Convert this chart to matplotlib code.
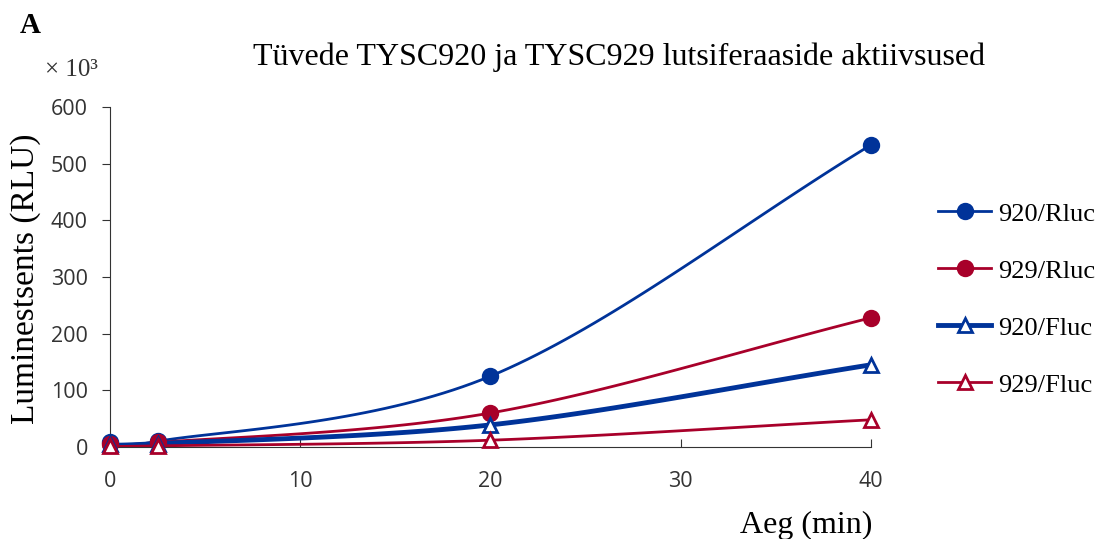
import numpy as np
import matplotlib.pyplot as plt
from matplotlib.lines import Line2D

plt.rcParams['font.family'] = ['Liberation Serif', 'DejaVu Serif']

aeg = [0, 2.5, 20, 40]
rluc_920 = [8, 10, 125, 533]
rluc_929 = [5, 8, 60, 228]
fluc_920 = [5, 6, 39, 145]
fluc_929 = [1, 2, 12, 48]

sinine = '#003399'
punane = '#A8002A'


def silu(x, y, n=40):
    # Excel-laadne silumine (Catmull-Rom)
    x = np.asarray(x, float)
    y = np.asarray(y, float)
    px = np.concatenate([[2 * x[0] - x[1]], x, [2 * x[-1] - x[-2]]])
    py = np.concatenate([[2 * y[0] - y[1]], y, [2 * y[-1] - y[-2]]])
    xs, ys = [], []
    t = np.linspace(0, 1, n)
    for i in range(1, len(px) - 2):
        c1x = px[i] + (px[i + 1] - px[i - 1]) / 6
        c1y = py[i] + (py[i + 1] - py[i - 1]) / 6
        c2x = px[i + 1] - (px[i + 2] - px[i]) / 6
        c2y = py[i + 1] - (py[i + 2] - py[i]) / 6
        bx = (1 - t) ** 3 * px[i] + 3 * (1 - t) ** 2 * t * c1x + 3 * (1 - t) * t ** 2 * c2x + t ** 3 * px[i + 1]
        by = (1 - t) ** 3 * py[i] + 3 * (1 - t) ** 2 * t * c1y + 3 * (1 - t) * t ** 2 * c2y + t ** 3 * py[i + 1]
        xs.extend(bx)
        ys.extend(by)
    return np.array(xs), np.array(ys)


fig = plt.figure(figsize=(11.02, 5.39), dpi=100)
ax = fig.add_axes([0.0998, 0.1707, 0.6905, 0.6308])

seeriad = [
    ('920/Rluc', rluc_920, sinine, 'o', sinine, 2.0),
    ('929/Rluc', rluc_929, punane, 'o', punane, 2.0),
    ('920/Fluc', fluc_920, sinine, '^', 'white', 3.5),
    ('929/Fluc', fluc_929, punane, '^', 'white', 2.0),
]

kasitsejad = []
for nimi, y, v, m, fc, lw in seeriad:
    sx, sy = silu(aeg, y)
    ax.plot(sx, sy, color=v, lw=lw, zorder=2)
    ax.plot(aeg, y, ls='none', marker=m, ms=10.5, mfc=fc, mec=v, mew=2, zorder=3, clip_on=False)
    kasitsejad.append(Line2D([], [], color=v, lw=lw, marker=m, ms=10.5, mfc=fc, mec=v, mew=2))

ax.set_xlim(0, 40)
ax.set_ylim(0, 600)
ax.set_xticks([0, 10, 20, 30, 40])
ax.set_yticks(range(0, 601, 100))
ax.spines['top'].set_visible(False)
ax.spines['right'].set_visible(False)
ax.spines['left'].set_color('#333333')
ax.spines['bottom'].set_color('#333333')
ax.tick_params(axis='y', direction='out', length=6, color='#333333', labelsize=15.5,
               labelcolor='#333333', pad=10)
ax.tick_params(axis='x', direction='in', length=6, color='#333333', labelsize=15.5,
               labelcolor='#333333', pad=17)
for lab in ax.get_xticklabels() + ax.get_yticklabels():
    lab.set_fontfamily('Open Sans')

ax.set_ylabel('Luminestsents (RLU)', fontsize=24)
ax.yaxis.set_label_coords(-0.090, 0.495)
fig.text(0.792, 0.012, 'Aeg (min)', fontsize=23, ha='right', va='baseline')
fig.text(0.5617, 0.894, 'Tüvede TYSC920 ja TYSC929 lutsiferaaside aktiivsused',
         fontsize=23, ha='center', va='center')
fig.text(0.041, 0.870, '× 10³', fontsize=18, ha='left', va='center', color='#333333')
fig.text(0.018, 0.952, 'A', fontsize=21, fontweight='bold', ha='left', va='center')

fig.legend(handles=kasitsejad, labels=[s[0] for s in seeriad], loc='center left',
           bbox_to_anchor=(0.830, 0.4445), frameon=False, fontsize=19,
           handlelength=2.0, handletextpad=0.25, labelspacing=1.27)

fig.savefig('out.png', dpi=100)
